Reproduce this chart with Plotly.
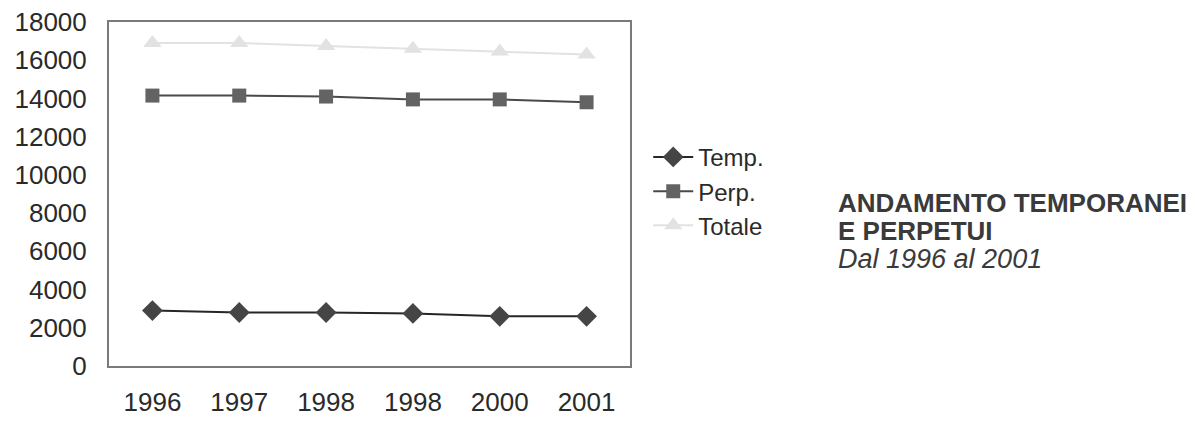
import plotly.graph_objects as go

# dati
anni = ['1996', '1997', '1998', '1998', '2000', '2001']
temp = [2900, 2800, 2800, 2750, 2600, 2600]
perp = [14150, 14150, 14100, 13950, 13950, 13800]
totale = [16900, 16900, 16750, 16600, 16450, 16300]
y_ticks = list(range(0, 18001, 2000))

x = list(range(len(anni)))  # 1998 compare due volte, quindi posizioni numeriche

fig = go.Figure()

fig.add_trace(go.Scatter(
    x=x, y=temp, name='Temp.', mode='lines+markers',
    line=dict(color='#262626', width=2),
    marker=dict(symbol='diamond', size=16, color='#454545')
))
fig.add_trace(go.Scatter(
    x=x, y=perp, name='Perp.', mode='lines+markers',
    line=dict(color='#4a4a4a', width=2),
    marker=dict(symbol='square', size=14, color='#636363')
))
fig.add_trace(go.Scatter(
    x=x, y=totale, name='Totale', mode='lines+markers',
    line=dict(color='#e2e2e2', width=2),
    marker=dict(symbol='triangle-up', size=16, color='#e2e2e2')
))

font_main = 'Liberation Sans, Arial, sans-serif'

fig.update_layout(
    width=1195, height=422,
    margin=dict(l=101, r=573, t=14, b=64, autoexpand=False),
    paper_bgcolor='white', plot_bgcolor='white',
    font=dict(family=font_main, size=24, color='#2a2a2a'),
    showlegend=True,
    legend=dict(
        x=1.035, y=0.672, xanchor='left', yanchor='top',
        font=dict(size=24, color='#2a2a2a'),
        bgcolor='rgba(0,0,0,0)', tracegroupgap=0, itemwidth=40
    ),
)

fig.update_xaxes(
    range=[-0.5, len(anni) - 0.5],
    tickvals=x, ticktext=anni, automargin=False,
    showgrid=False, zeroline=False,
    showline=True, mirror=True, linecolor='#7a7a7a', linewidth=2,
    ticks='', ticklabelstandoff=12, ticklabeloverflow='allow',
    tickfont=dict(size=26, color='#2a2a2a')
)
fig.update_yaxes(
    range=[0, 18000], tickvals=y_ticks, ticktext=[str(v) for v in y_ticks],
    automargin=False,
    showgrid=False, zeroline=False,
    showline=True, mirror=True, linecolor='#7a7a7a', linewidth=2,
    ticks='', ticklabelstandoff=15, ticklabeloverflow='allow',
    tickfont=dict(size=26, color='#2a2a2a')
)

# titolo a destra
fig.add_annotation(
    xref='paper', yref='paper', x=1.395, y=0.474, xanchor='left', yanchor='middle',
    text='<b>ANDAMENTO TEMPORANEI</b>', showarrow=False,
    font=dict(family=font_main, size=26, color='#3a3a3a')
)
fig.add_annotation(
    xref='paper', yref='paper', x=1.395, y=0.393, xanchor='left', yanchor='middle',
    text='<b>E PERPETUI</b>', showarrow=False,
    font=dict(family=font_main, size=26, color='#3a3a3a')
)
fig.add_annotation(
    xref='paper', yref='paper', x=1.395, y=0.312, xanchor='left', yanchor='middle',
    text='<i>Dal 1996 al 2001</i>', showarrow=False,
    font=dict(family=font_main, size=27, color='#3a3a3a')
)

fig.write_html("out.html")
